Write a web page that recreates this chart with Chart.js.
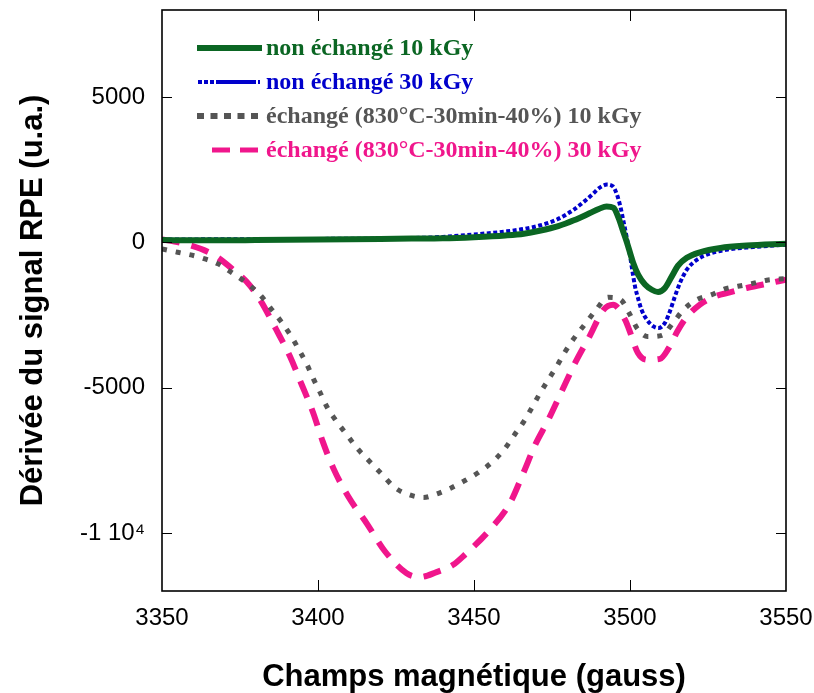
<!DOCTYPE html>
<html><head><meta charset="utf-8">
<script src="https://cdn.jsdelivr.net/npm/chart.js@4.4.1/dist/chart.umd.min.js"></script>
<style>html,body{margin:0;padding:0;background:#fff}#wrap{width:814px;height:693px}</style>
</head><body><div id="wrap"><canvas id="c" width="814" height="693"></canvas></div>
<script>
// ---- data (field in gauss, signal in a.u.) ----
const labels = ["non échangé 10 kGy","non échangé 30 kGy","échangé (830°C-30min-40%) 10 kGy","échangé (830°C-30min-40%) 30 kGy"];
const xTicks = [3350,3400,3450,3500,3550];
const yTicks = [-10000,-5000,0,5000];

const fieldG = [3350,3360,3370,3380,3390,3400,3410,3420,3430,3440,3450,3460,3466,3471,3477,3482,3487,3490,3492.5,3494.7,3496.3,3497.9,3499,3500,3501,3502.6,3504.8,3507,3509,3511.2,3513.4,3515.4,3518.2,3522.4,3529,3537.4,3550];
const sigG   = [80,70,70,80,90,100,110,120,130,140,180,240,300,400,560,760,1000,1150,1240,1190,850,350,0,-350,-700,-1110,-1450,-1630,-1710,-1570,-1170,-800,-530,-340,-190,-110,-50];

const fieldB = [3350,3400,3430,3440,3449.7,3460.5,3465.8,3471,3476.6,3482,3486,3488.1,3490.2,3492.6,3494.5,3495.8,3496.9,3497.9,3499,3500,3500.5,3501.6,3502.7,3503.7,3505.4,3507.5,3509.1,3511.2,3512.8,3514.4,3516,3518.2,3520.8,3524.6,3531,3539.5,3550];
const sigB   = [100,120,150,190,270,380,460,580,790,1130,1470,1670,1880,1990,1930,1650,1240,730,150,-450,-800,-1510,-1970,-2320,-2660,-2890,-2950,-2770,-2370,-1860,-1400,-940,-650,-420,-250,-160,-80];

const fieldGr = [3350,3355,3359.6,3363.8,3368,3372.5,3377,3381.4,3385,3388.5,3391.7,3394,3396.4,3398.5,3400.6,3402.8,3405.4,3409,3412.5,3416.7,3420.4,3424.5,3429.3,3433.8,3438,3442.5,3446.9,3451.4,3455.4,3459.6,3463,3466,3468.5,3471,3473.8,3476.5,3479,3481.8,3485.6,3489,3493,3497,3499.8,3502.3,3505.6,3510.2,3513.7,3517.3,3521.4,3526.2,3530.4,3534.6,3539,3543.8,3550];
const sigGr   = [-225,-340,-440,-570,-740,-1050,-1390,-1800,-2290,-2770,-3280,-3720,-4190,-4690,-5150,-5650,-6080,-6590,-7080,-7560,-7970,-8430,-8690,-8780,-8660,-8460,-8210,-7920,-7600,-7140,-6620,-6160,-5700,-5220,-4730,-4270,-3800,-3340,-2810,-2340,-1890,-1970,-2450,-2960,-3240,-3200,-2780,-2300,-1970,-1800,-1600,-1510,-1420,-1300,-1250];

const fieldP = [3350,3354,3359,3365.4,3368,3374,3377,3381.4,3386.5,3391,3394.8,3398.5,3401.5,3404.9,3409.7,3415.6,3421.5,3428.4,3432.7,3438,3443.3,3447,3455,3461.5,3465.8,3469.6,3473.8,3478.1,3482.4,3487.2,3491.5,3494.6,3498.4,3500.3,3502.5,3505.4,3509.6,3512.3,3515.2,3517.8,3522.4,3527.2,3532,3537.4,3542.7,3550];
const sigP   = [100,30,-100,-360,-530,-1050,-1340,-1970,-2980,-3920,-4900,-5880,-6850,-7770,-8750,-9670,-10640,-11390,-11520,-11350,-11100,-10760,-9900,-8980,-7940,-6970,-6110,-5130,-4150,-3200,-2320,-2150,-2660,-3170,-3800,-4040,-4010,-3660,-3060,-2620,-2140,-1860,-1720,-1570,-1450,-1280];

const pts = (xs, ys) => xs.map((x, i) => ({x: x, y: ys[i]}));

const colors = ['#0b6623','#0000cc','#555555','#f0168c'];

const innerTicks = {
  id: 'innerTicks',
  afterDatasetsDraw(chart) {
    const ctx = chart.ctx, a = chart.chartArea;
    const xs = chart.scales.x, ys = chart.scales.y;
    ctx.save();
    ctx.strokeStyle = '#000';
    ctx.lineWidth = 1;
    ctx.beginPath();
    xTicks.forEach(v => {
      if (v <= xs.min || v >= xs.max) return;
      const p = Math.round(xs.getPixelForValue(v)) + 0.5;
      ctx.moveTo(p, a.bottom); ctx.lineTo(p, a.bottom - 11);
      ctx.moveTo(p, a.top); ctx.lineTo(p, a.top + 11);
    });
    yTicks.forEach(v => {
      const p = Math.round(ys.getPixelForValue(v)) + 0.5;
      ctx.moveTo(a.left, p); ctx.lineTo(a.left + 10, p);
      ctx.moveTo(a.right, p); ctx.lineTo(a.right - 10, p);
    });
    ctx.stroke();
    ctx.lineWidth = 1.6;
    ctx.strokeRect(a.left, a.top, a.right - a.left, a.bottom - a.top);
    ctx.restore();
  }
};

const legendBox = {
  id: 'legendBox',
  afterDraw(chart) {
    const ctx = chart.ctx;
    const rows = [
      {y: 48, x0: 197, x1: 262, w: 6, dash: [], cap: 'butt'},
      {y: 82, x0: 198, x1: 260, w: 4, dash: [4,2,4,2,4,2,36,0], cap: 'butt'},
      {y: 116, x0: 197, x1: 260, w: 6, dash: [7,6.5], cap: 'butt'},
      {y: 150, x0: 212, x1: 258, w: 5, dash: [18,10], cap: 'butt'}
    ];
    ctx.save();
    ctx.font = 'bold 24px "Liberation Serif", "Times New Roman", serif';
    ctx.textBaseline = 'middle';
    ctx.textAlign = 'left';
    rows.forEach((r, i) => {
      ctx.strokeStyle = colors[i];
      ctx.lineWidth = r.w;
      ctx.lineCap = r.cap;
      ctx.setLineDash(r.dash);
      ctx.beginPath(); ctx.moveTo(r.x0, r.y); ctx.lineTo(r.x1, r.y); ctx.stroke();
      ctx.setLineDash([]);
      ctx.fillStyle = colors[i];
      ctx.fillText(chart.data.datasets[i].label, 266, r.y + 1);
    });
    ctx.restore();
  }
};

new Chart(document.getElementById('c'), {
  type: 'line',
  data: {
    datasets: [
      {label: labels[0], data: pts(fieldG, sigG), borderColor: colors[0], borderWidth: 6, pointRadius: 0, cubicInterpolationMode: 'monotone'},
      {label: labels[1], data: pts(fieldB, sigB), borderColor: colors[1], borderWidth: 4, borderDash: [4,2.5], pointRadius: 0, cubicInterpolationMode: 'monotone'},
      {label: labels[2], data: pts(fieldGr, sigGr), borderColor: colors[2], borderWidth: 5, borderDash: [5,9], pointRadius: 0, cubicInterpolationMode: 'monotone'},
      {label: labels[3], data: pts(fieldP, sigP), borderColor: colors[3], borderWidth: 6, borderDash: [18,12], pointRadius: 0, cubicInterpolationMode: 'monotone'}
    ]
  },
  options: {
    responsive: false,
    animation: false,
    layout: {padding: {left: 0, top: 10, right: 28, bottom: 0}},
    plugins: {legend: {display: false}, tooltip: {enabled: false}},
    scales: {
      x: {
        type: 'linear', min: 3350, max: 3550,
        afterBuildTicks: s => { s.ticks = xTicks.map(v => ({value: v})); },
        afterFit: s => { s.height = 102; s.paddingLeft = 0; s.paddingRight = 0; },
        grid: {display: false, drawTicks: false},
        border: {display: false},
        ticks: {padding: 13, color: '#000', font: {family: '"Liberation Sans", Arial, sans-serif', size: 24},
                callback: v => String(v)},
        title: {display: true, text: 'Champs magnétique (gauss)', color: '#000', padding: {top: 0, bottom: 0},
                font: {family: '"Liberation Sans", Arial, sans-serif', size: 31, weight: 'bold', lineHeight: 1.0}}
      },
      y: {
        type: 'linear', min: -12000, max: 8000,
        afterBuildTicks: s => { s.ticks = yTicks.map(v => ({value: v})); },
        afterFit: s => { s.width = 162; s.paddingTop = 0; s.paddingBottom = 0; },
        grid: {display: false, drawTicks: false},
        border: {display: false},
        ticks: {padding: 17, color: '#000', font: {family: '"Liberation Sans", Arial, sans-serif', size: 24},
                callback: v => v === -10000 ? '-1 10\u2074' : String(v)},
        title: {display: true, text: 'Dérivée du signal RPE (u.a.)', color: '#000', padding: {top: 15, bottom: 15},
                font: {family: '"Liberation Sans", Arial, sans-serif', size: 31, weight: 'bold'}}
      }
    }
  },
  plugins: [innerTicks, legendBox]
});
</script>
</body></html>
